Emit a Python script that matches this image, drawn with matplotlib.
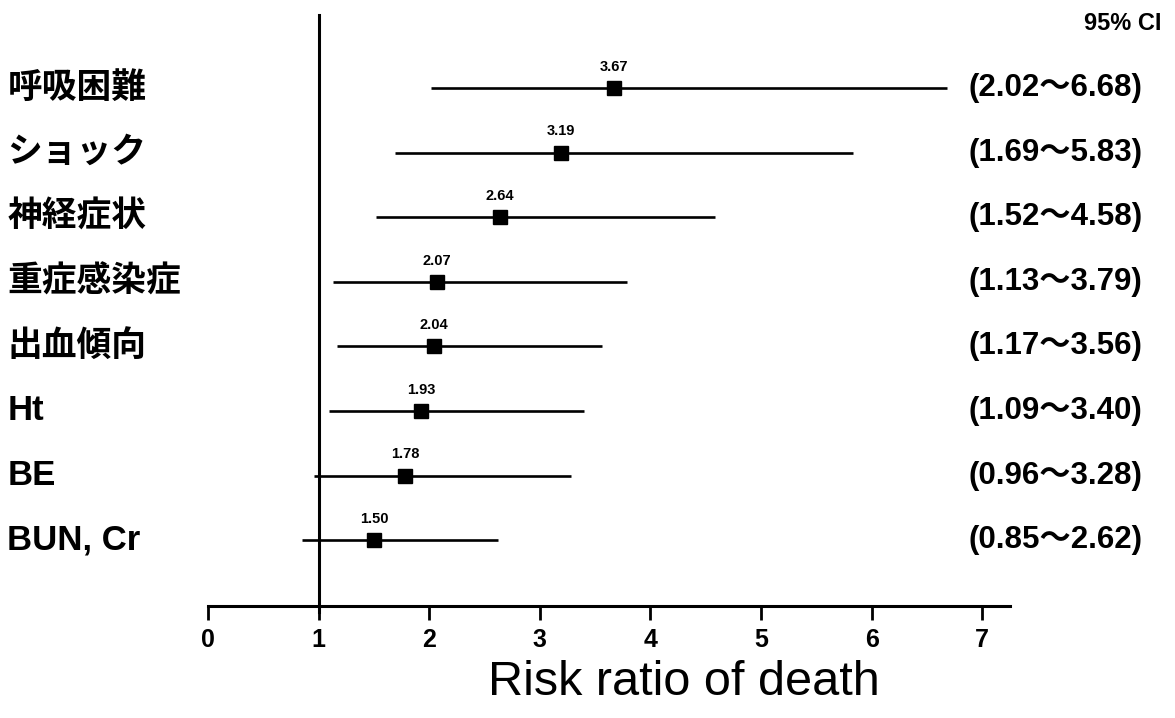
import matplotlib
matplotlib.use("Agg")
import matplotlib.pyplot as plt

plt.rcParams["font.family"] = ["Liberation Sans", "Noto Sans CJK JP", "DejaVu Sans"]

# data
labels = ["呼吸困難", "ショック", "神経症状", "重症感染症", "出血傾向", "Ht", "BE", "BUN, Cr"]
risk_ratio = [3.67, 3.19, 2.64, 2.07, 2.04, 1.93, 1.78, 1.50]
ci_low = [2.02, 1.69, 1.52, 1.13, 1.17, 1.09, 0.96, 0.85]
ci_high = [6.68, 5.83, 4.58, 3.79, 3.56, 3.40, 3.28, 2.62]
xticks = [0, 1, 2, 3, 4, 5, 6, 7]

mixed = ["Liberation Sans", "Noto Sans CJK JP", "DejaVu Sans"]

fig = plt.figure(figsize=(11.75, 7.18), dpi=100)
ax = fig.add_axes([0.177, 0.156, 0.6825, 0.823])
ax.set_xlim(0, 7.25)
ax.set_ylim(-0.02, 9.13)
ytr = ax.get_yaxis_transform()

n = len(labels)
for i, (name, rr, lo, hi) in enumerate(zip(labels, risk_ratio, ci_low, ci_high)):
    y = n - i
    ax.plot([lo, hi], [y, y], color="black", lw=1.9, solid_capstyle="butt")
    ax.plot(rr, y, marker="s", color="black", markersize=10)
    ax.text(rr, y + 0.22, f"{rr:.2f}", ha="center", va="bottom",
            fontsize=10.5, fontweight="bold")
    ax.text(-0.250, y, name, transform=ytr, ha="left", va="center",
            fontsize=25, fontweight="bold", family=mixed)
    ax.text(0.948, y, f"({lo:.2f}～{hi:.2f})", transform=ytr,
            ha="left", va="center", fontsize=22.5, fontweight="bold", family=mixed)

ax.text(1.093, 9.0, "95% CI", transform=ytr, ha="left", va="center",
        fontsize=17, fontweight="bold")

# reference line at RR = 1
ax.plot([1, 1], [-0.12, 9.13], color="black", lw=2.2, clip_on=False)

for side in ["top", "right", "left"]:
    ax.spines[side].set_visible(False)
ax.spines["bottom"].set_linewidth(2.2)
ax.set_yticks([])
ax.set_xticks(xticks)
ax.set_xticklabels([str(t) for t in xticks], fontsize=18, fontweight="bold")
ax.tick_params(axis="x", length=10, width=2, direction="out", pad=6)
fig.text(0.582, 0.049, "Risk ratio of death", ha="center", va="center", fontsize=35)

fig.savefig("out.png", dpi=100)
